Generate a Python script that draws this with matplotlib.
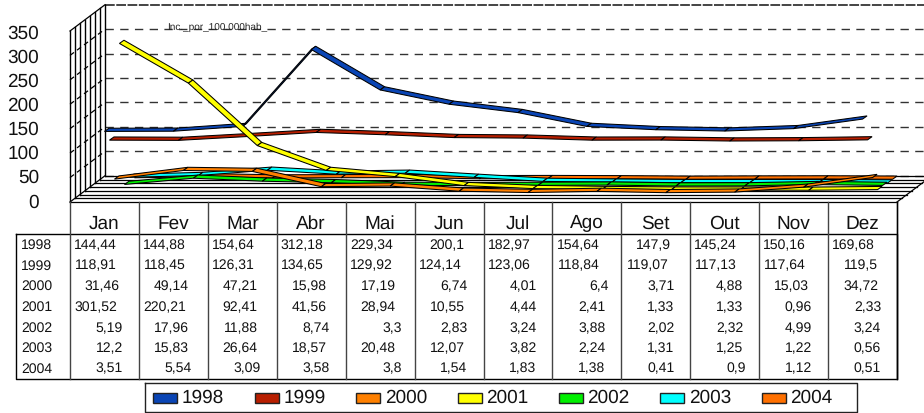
import matplotlib
matplotlib.use("Agg")
import matplotlib.pyplot as plt

plt.rcParams['font.family'] = ['Liberation Sans', 'DejaVu Sans']
plt.rcParams['text.hinting'] = 'no_hinting'
plt.rcParams['text.hinting_factor'] = 1

meses = ["Jan", "Fev", "Mar", "Abr", "Mai", "Jun", "Jul", "Ago", "Set", "Out", "Nov", "Dez"]
anos = ["1998", "1999", "2000", "2001", "2002", "2003", "2004"]
cores = ["#0A45B5", "#B81E00", "#FF8000", "#FFFF00", "#00F000", "#00FFFF", "#FF7000"]

v1998 = [144.44, 144.88, 154.64, 312.18, 229.34, 200.1, 182.97, 154.64, 147.9, 145.24, 150.16, 169.68]
v1999 = [118.91, 118.45, 126.31, 134.65, 129.92, 124.14, 123.06, 118.84, 119.07, 117.13, 117.64, 119.5]
v2000 = [31.46, 49.14, 47.21, 15.98, 17.19, 6.74, 4.01, 6.4, 3.71, 4.88, 15.03, 34.72]
v2001 = [301.52, 220.21, 92.41, 41.56, 28.94, 10.55, 4.44, 2.41, 1.33, 1.33, 0.96, 2.33]
v2002 = [5.19, 17.96, 11.88, 8.74, 3.3, 2.83, 3.24, 3.88, 2.02, 2.32, 4.99, 3.24]
v2003 = [12.2, 15.83, 26.64, 18.57, 20.48, 12.07, 3.82, 2.24, 1.31, 1.25, 1.22, 0.56]
v2004 = [3.51, 5.54, 3.09, 3.58, 3.8, 1.54, 1.83, 1.38, 0.41, 0.9, 1.12, 0.51]
series = [v1998, v1999, v2000, v2001, v2002, v2003, v2004]
ticks_y = [0, 50, 100, 150, 200, 250, 300, 350]

# geometria do grafico 3D, em pixels da imagem
X0, X1, Y0 = 70.0, 897.0, 202.0
ESCALA = 0.4886
DX, DY = 5.0, -3.75
LARG = 68.92

fig = plt.figure(figsize=(9.24, 4.13), dpi=100)
ax = fig.add_axes([0, 0, 1, 1])
ax.set_xlim(0, 924)
ax.set_ylim(413, 0)
ax.axis("off")


def proj(mes, valor, prof):
    # mes em colunas, valor em casos, prof em passos de profundidade
    return X0 + LARG * (mes + 0.5) + DX * prof, Y0 - valor * ESCALA + DY * prof


# linhas de grade do fundo
for t in ticks_y:
    y = Y0 - t * ESCALA + DY * 7
    if t == 350:
        ax.plot([X0 + DX * 7, 924], [y, y], color="#444444", lw=1.4, dashes=(5, 0.8), zorder=1)
    else:
        ax.plot([X0 + DX * 7, 924], [y, y], color="#333333", lw=1, dashes=(6, 4.6), zorder=1)

# piso
for k in range(8):
    y = Y0 + DY * k
    ax.plot([X0 + DX * k, X1 + DX * k], [y, y], color="black", lw=0.9, zorder=2)
ax.plot([X1, X1 + DX * 7], [Y0, Y0 + DY * 7], color="black", lw=0.9, zorder=2)

# parede esquerda
for k in range(8):
    x = X0 + DX * k
    ax.plot([x, x], [Y0 + DY * k, Y0 - 350 * ESCALA + DY * k], color="black", lw=1, zorder=2)
for t in ticks_y:
    y = Y0 - t * ESCALA
    est = "-" if t in (0, 350) else (0, (4, 3))
    ax.plot([X0, X0 + DX * 7], [y, y + DY * 7], color="black", lw=0.9, ls=est, zorder=2)
    ax.text(39, Y0 - t * 0.483 + 0.5, str(t), ha="right", va="center", fontsize=13.8, color="#111111")

# fitas das series, as de tras primeiro
ordem = [6, 5, 4, 0, 1, 3, 2]
z = 3
for s in ordem:
    vals = series[s]
    for i in range(len(vals) - 1):
        xa, ya = proj(i, vals[i], s)
        xb, yb = proj(i + 1, vals[i + 1], s)
        ax.fill([xa, xb, xb + 4.5, xa + 4.5], [ya, yb, yb - 3.2, ya - 3.2],
                facecolor=cores[s], edgecolor="black", lw=0.75, zorder=z)
    z += 1

ax.text(167, 27, "Inc._por_100.000hab_", fontsize=7.4, ha="left", va="center", color="#222222", zorder=2)

# tabela de dados
TAB_TOPO, TAB_FIM, TAB_ESQ = 234.3, 379.0, 15.5
ax.plot([TAB_ESQ, X1, X1, TAB_ESQ, TAB_ESQ], [TAB_TOPO, TAB_TOPO, TAB_FIM, TAB_FIM, TAB_TOPO],
        color="black", lw=1, zorder=2)
for k in range(len(meses) + 1):
    x = X0 + LARG * k
    ax.plot([x, x], [Y0, TAB_FIM], color="#444444", lw=1, zorder=2)
ax.plot([X1, X1], [Y0, TAB_FIM], color="black", lw=1, zorder=2)

for i, m in enumerate(meses):
    ax.text(X0 + LARG * (i + 0.5), 223.5, m, ha="center", va="center", fontsize=13.8, color="#111111")

linhas_y = [245.3, 266, 286.7, 307.3, 328.3, 348.3, 369]
for a, vals, y in zip(anos, series, linhas_y):
    ax.text(21, y, a, ha="left", va="center", fontsize=9.8, color="#111111")
    for i, v in enumerate(vals):
        txt = f"{v:g}".replace(".", ",")
        fim = X0 + LARG * (i + 1) - 13 - 3 * (len(txt) - 3)
        ax.text(fim, y, txt, ha="right", va="center", fontsize=9.8, color="#111111")

# legenda
ax.plot([145.3, 857, 857, 145.3, 145.3], [383, 383, 411.5, 411.5, 383], color="#222222", lw=1, zorder=2)
for k, (a, c) in enumerate(zip(anos, cores)):
    x = 153.3 + 101.4 * k
    ax.fill([x, x + 24, x + 24, x], [392.5, 392.5, 402.5, 402.5], facecolor=c, edgecolor="#222222", lw=1, zorder=3)
    ax.text(x + 28.5, 397.5, a, ha="left", va="center", fontsize=13.6, color="#111111")

fig.savefig("out.png", dpi=100)
